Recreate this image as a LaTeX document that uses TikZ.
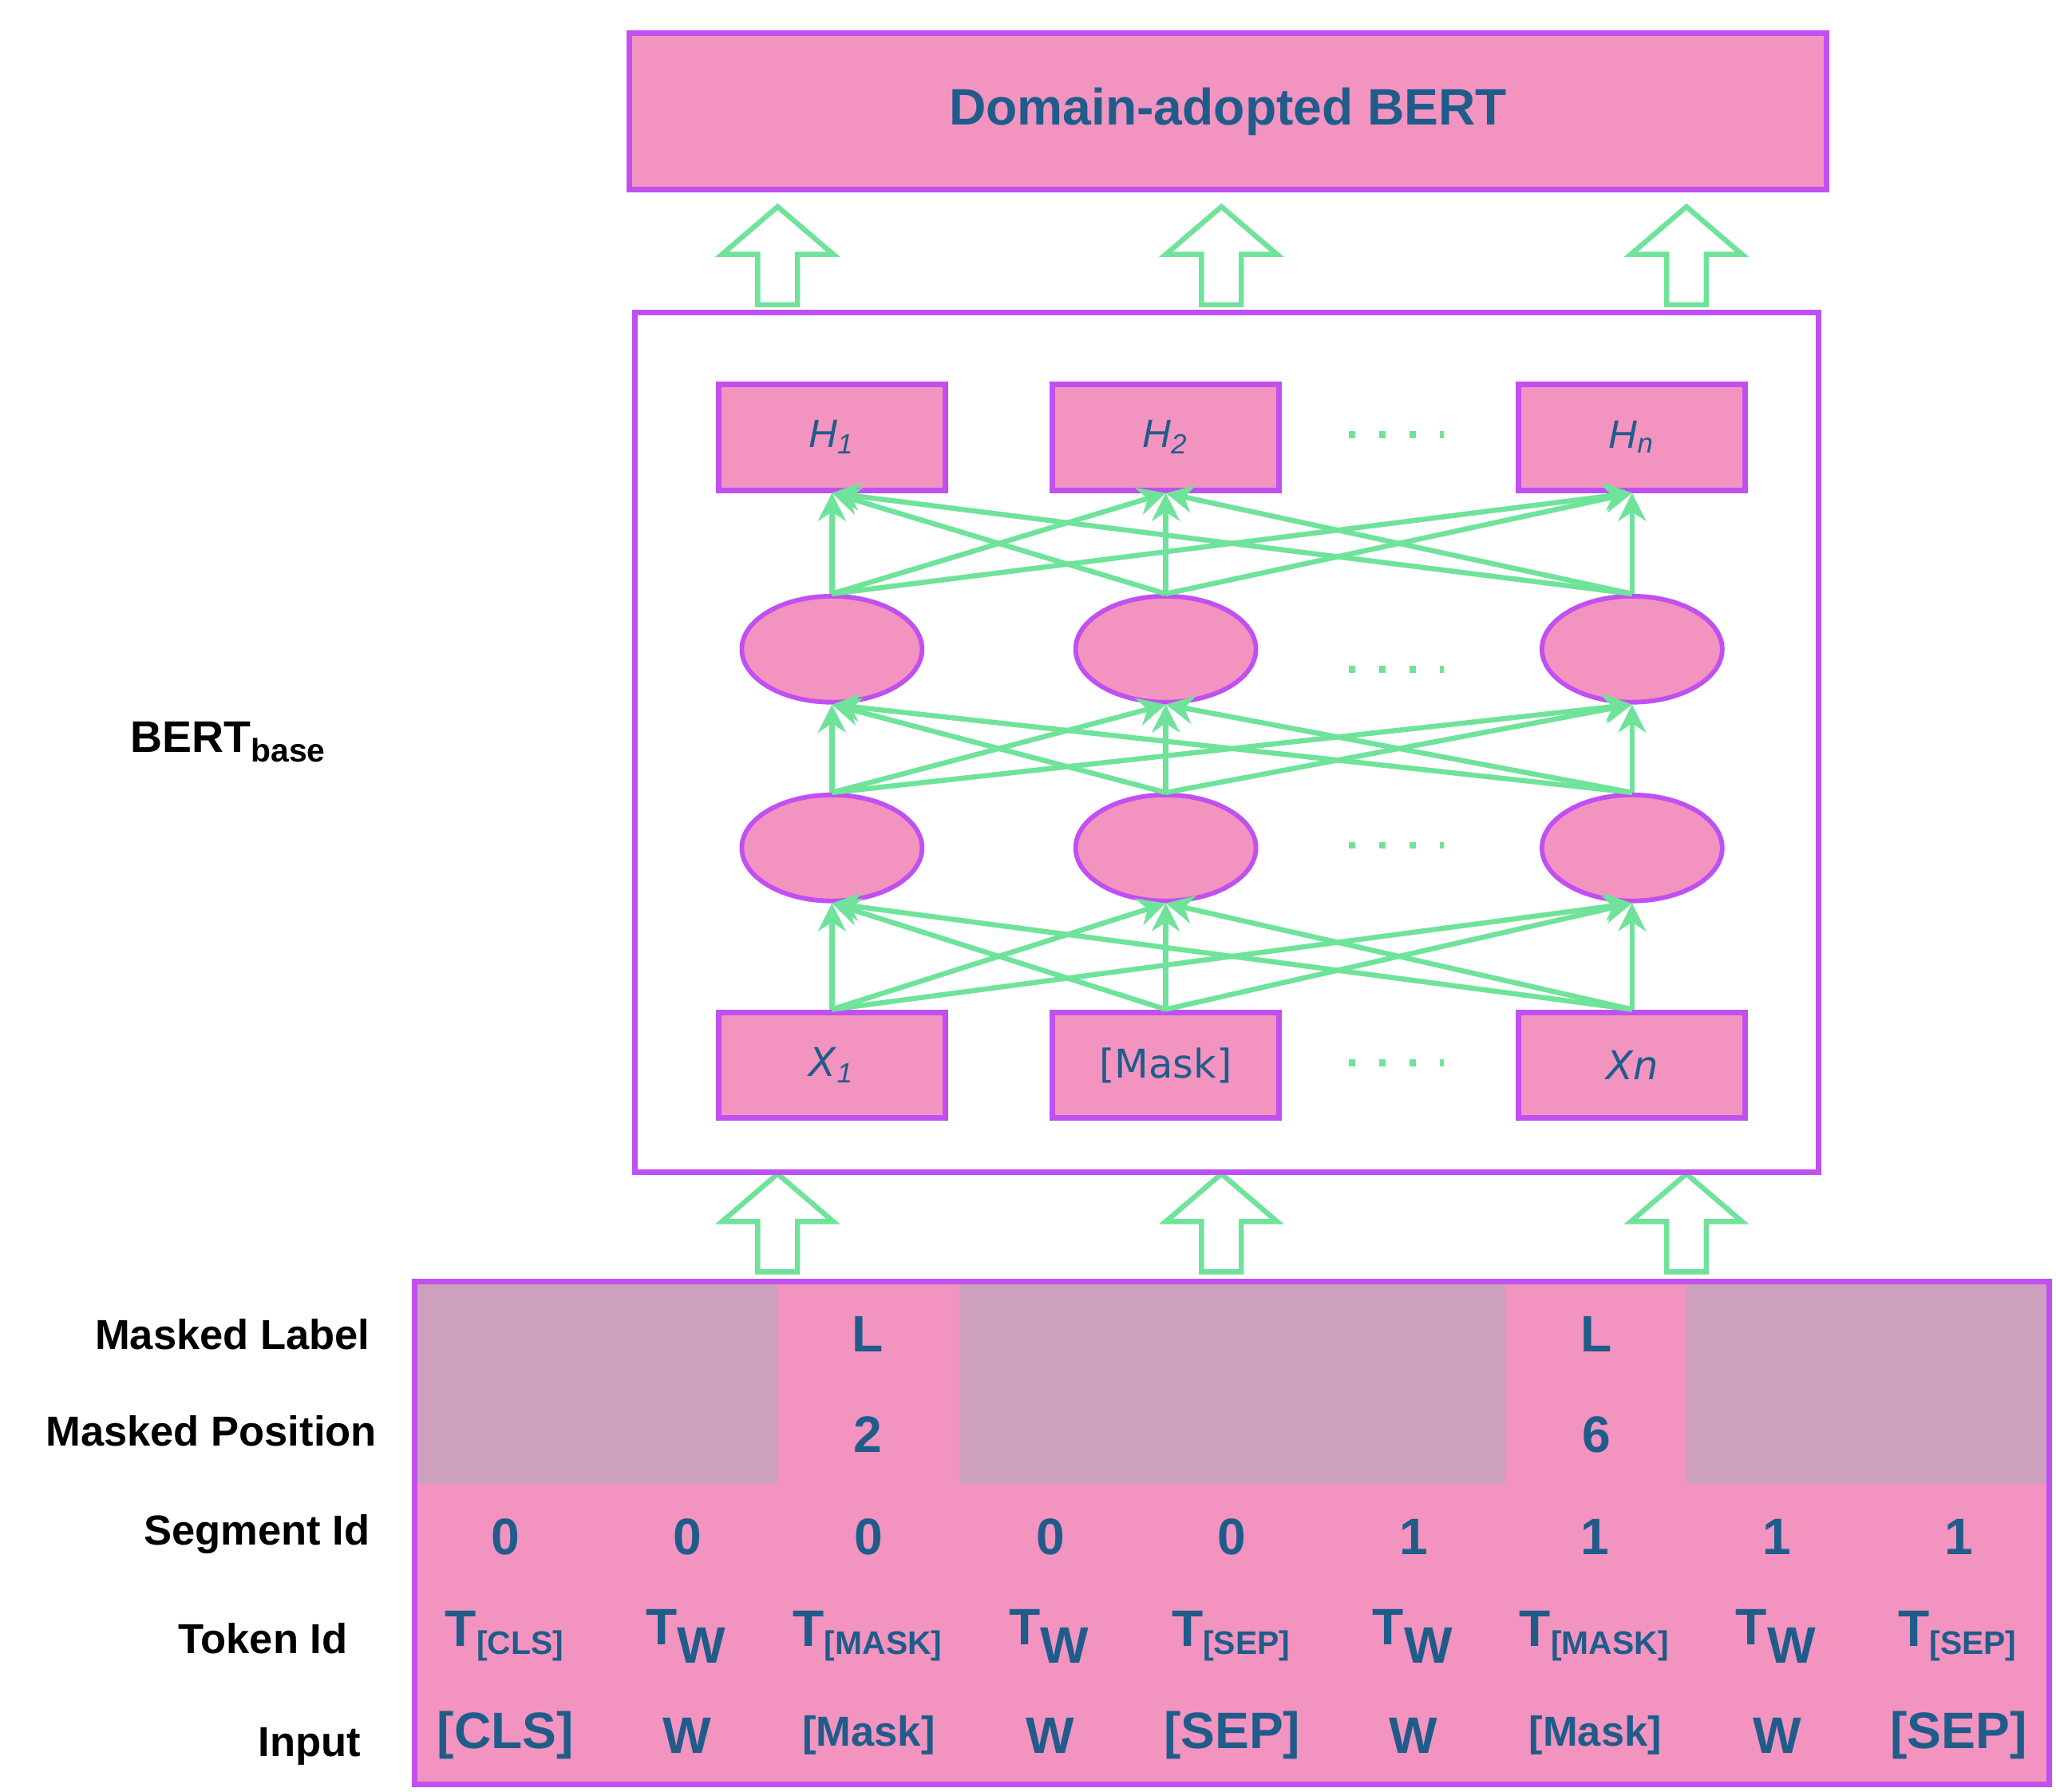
\documentclass[tikz,border=0pt]{standalone}
\usepackage{fontspec}
\setmainfont{Liberation Sans}
\newfontfamily\dv{DejaVu Sans}
\usetikzlibrary{shapes.geometric,arrows.meta}
\definecolor{pk}{HTML}{F393C0}
\definecolor{pu}{HTML}{C050F0}
\definecolor{gr}{HTML}{6FE39A}
\definecolor{gy}{HTML}{CCA0BE}
\definecolor{db}{HTML}{1F5C8A}
\tikzset{
 box/.style={draw=pu,fill=pk,line width=1.2pt,minimum width=1.71cm,minimum height=0.8cm,inner sep=0pt,font=\dv\fontsize{8.5}{10}\selectfont\color{db}},
 ell/.style={ellipse,draw=pu,fill=pk,line width=1pt,minimum width=1.36cm,minimum height=0.8cm,inner sep=0pt},
 con/.style={gr,line width=1.1pt,-{Stealth[length=6pt,width=6pt]}},
 cell/.style={font=\bfseries\fontsize{11}{13}\selectfont\color{db},inner sep=0pt},
 rl/.style={font=\bfseries\fontsize{9}{11}\selectfont,anchor=east,inner sep=0pt},
 dots/.style={gr,line width=1.5pt,dash pattern=on 1.5pt off 5pt},
 hollow/.pic={\draw[gr,fill=white,line width=1.1pt] (-15,0)--(-15,-38)--(-42,-38)--(0,-74)--(42,-38)--(15,-38)--(15,0)--cycle;}
}
\begin{document}
\begin{tikzpicture}[x=0.01cm,y=-0.01cm]
\useasboundingbox (0,0) rectangle (1552,1352);
% top box
\node[draw=pu,fill=pk,line width=1.2pt,minimum width=9.03cm,minimum height=1.18cm,font=\bfseries\fontsize{11}{13}\selectfont\color{db}] (top) at (927,84) {Domain-adopted BERT};
\foreach \x in {587,922,1273}{\pic at (\x,230) {hollow}; \pic at (\x,960) {hollow};}
% big box
\draw[pu,line width=1.2pt] (479,236) rectangle (1373,885);
% nodes
\node[box] (h1) at (628,330) {$\mathit{H_1}$};
\node[box] (h2) at (880,330) {$\mathit{H_2}$};
\node[box] (h3) at (1232,330) {$\mathit{H_n}$};
\node[ell] (a1) at (628,490) {};
\node[ell] (a2) at (880,490) {};
\node[ell] (a3) at (1232,490) {};
\node[ell] (b1) at (628,640) {};
\node[ell] (b2) at (880,640) {};
\node[ell] (b3) at (1232,640) {};
\node[box] (x1) at (628,804) {\textit{X}$_{\mathit1}$};
\node[box] (x2) at (880,804) {[Mask]};
\node[box] (x3) at (1232,804) {\textit{Xn}};
\foreach \y in {328,505,638,802} \draw[dots] (1018,\y)--(1090,\y);
\foreach \i in {1,2,3}{\foreach \j in {1,2,3}{
 \draw[con] (x\i.north) -- (b\j.south);
 \draw[con] (b\i.north) -- (a\j.south);
 \draw[con] (a\i.north) -- (h\j.south);}}
\node[font=\bfseries\fontsize{9.5}{11}\selectfont] (bb) at (173,560) {BERT$_{\textbf{\scriptsize base}}$};
% table
\fill[pk] (313,967) rectangle (1547,1347);
\fill[gy] (313,967) rectangle (587,1120);
\fill[gy] (724,967) rectangle (1136,1120);
\fill[gy] (1273,967) rectangle (1547,1120);
\draw[pu,line width=1.2pt] (313,967) rectangle (1547,1347);
\node[rl] (r1) at (280,1007) {Masked Label};
\node[rl] (r2) at (285,1080) {Masked Position};
\node[rl] (r3) at (280,1158) {Segment Id};
\node[rl] (r4) at (263,1237) {Token Id};
\node[rl] (r5) at (273,1318) {Input};
\node[cell] (l1) at (655,1007) {L};
\node[cell] (l2) at (1205,1007) {L};
\node[cell] (p1) at (655,1083) {2};
\node[cell] (p2) at (1205,1083) {6};
\foreach \s [count=\i] in {0,0,0,0,0,1,1,1,1}
 \node[cell] (s\i) at (313+137.1*\i-68.5,1160) {\s};
\foreach \t [count=\i] in {T$_{\textbf{\scriptsize [CLS]}}$,T$_{\textbf{W}}$,T$_{\textbf{\scriptsize [MASK]}}$,T$_{\textbf{W}}$,T$_{\textbf{\scriptsize [SEP]}}$,T$_{\textbf{W}}$,T$_{\textbf{\scriptsize [MASK]}}$,T$_{\textbf{W}}$,T$_{\textbf{\scriptsize [SEP]}}$}
 \node[cell] (t\i) at (313+137.1*\i-68.5,1235) {\t};
\foreach \w [count=\i] in {[CLS],W,{\fontsize{9}{11}\selectfont[Mask]},W,[SEP],W,{\fontsize{9}{11}\selectfont[Mask]},W,[SEP]}
 \node[cell] (w\i) at (313+137.1*\i-68.5,1310) {\w};
\end{tikzpicture}
\end{document}
